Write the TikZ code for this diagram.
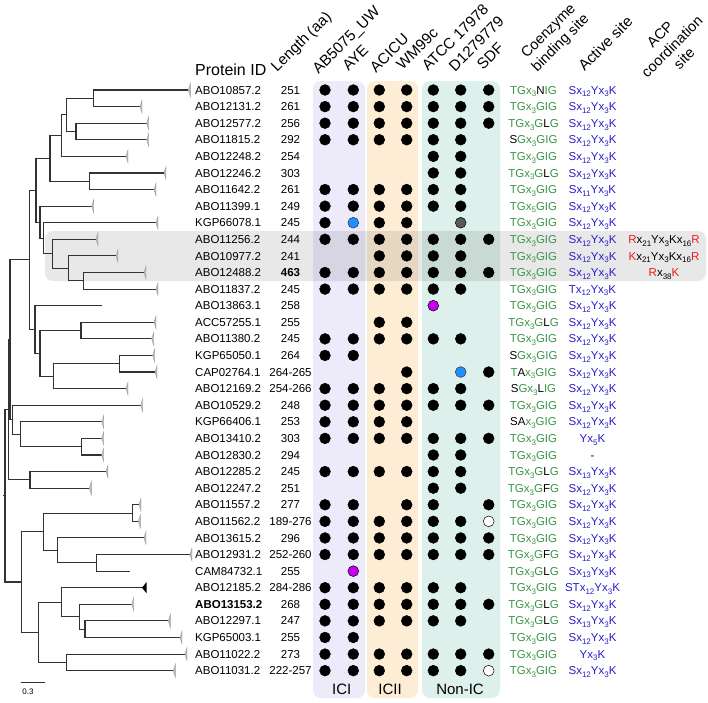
\documentclass[tikz,border=0pt]{standalone}
\usepackage{fontspec}
\setmainfont{Liberation Sans}
\usetikzlibrary{calc}
\definecolor{cgreen}{RGB}{58,150,72}
\definecolor{cblue}{RGB}{40,30,200}
\definecolor{cred}{RGB}{230,30,30}
\definecolor{bandI}{RGB}{237,234,250}
\definecolor{bandII}{RGB}{253,237,212}
\definecolor{bandN}{RGB}{222,240,235}
\definecolor{treec}{RGB}{50,50,50}
\definecolor{dotblue}{RGB}{30,144,255}
\definecolor{dotmag}{RGB}{200,0,240}
\newcommand\sbs[1]{\raisebox{-0.45ex}{\fontsize{8}{8}\selectfont #1}}
\newcommand\gr[1]{\textcolor{cgreen}{#1}}
\newcommand\bl[1]{\textcolor{cblue}{#1}}
\newcommand\rd[1]{\textcolor{cred}{#1}}
\newcommand\xs[1]{x\sbs{#1}}
\newcommand\sact{\bl{S\xs{12}Y\xs{3}K}}
\newcommand\cGIG{\gr{TG\xs{3}GIG}}
\newcommand\cGLG{\gr{TG\xs{3}G}L\gr{G}}
\newcommand\cGFG{\gr{TG\xs{3}G}F\gr{G}}
\newcommand\clade[3]{\draw[br] (#1) -| (#2) |- (#3);}
\newcommand\protrow[6]{%
  \pgfmathsetmacro\ry{90+16.59*(#1-1)}%
  \pgfmathsetmacro\rb{\ry+4.1}%
  \node[idlab] (id#1) at (195,\rb) {#2};
  \node[txt,anchor=base] (len#1) at (290.5,\rb) {#3};
  \foreach \c [count=\k] in {#4} {%
    \if\c0\else
      \pgfmathsetmacro\cx{{325,353.3,379.3,406.7,433.3,460.7,488.7}[\k-1]}%
      \node[dot,dot\c] (dot#1-\k) at (\cx,\ry) {};
    \fi}
  \node[txt,anchor=base] (co#1) at (533.5,\rb) {#5};
  \node[txt,anchor=base] (ac#1) at (592.5,\rb) {#6};
}
\tikzset{
  br/.style={draw=treec, line width=1.1pt},
  txt/.style={inner sep=0pt, font=\fontsize{11.5}{13}\selectfont},
  idlab/.style={txt, anchor=base west},
  dot/.style={circle, inner sep=0pt, minimum size=10.8pt, draw=black, line width=0.5pt},
  dot1/.style={fill=black},
  dotb/.style={fill=dotblue, draw=black!80},
  dotg/.style={fill=black!65},
  dotm/.style={fill=dotmag},
  dotw/.style={fill=white},
  hdr/.style={rotate=45, anchor=base west, inner sep=0pt, font=\fontsize{15.2}{18}\selectfont},
  hdrm/.style={rotate=45, align=center, inner sep=0pt, font=\fontsize{14.6}{17}\selectfont},
  bandlab/.style={inner sep=0pt, font=\fontsize{15}{17}\selectfont},
  leaftick/.style={fill=gray!55, draw=gray!75, line width=0.4pt},
}
\begin{document}
\begin{tikzpicture}[x=1pt,y=-1pt]
\useasboundingbox (0,0) rectangle (708,702);
\fill[white] (0,0) rectangle (708,702);
% group bands
\fill[bandI, rounded corners=8pt] (313,81) rectangle (365,698);
\fill[bandII, rounded corners=8pt] (367,81) rectangle (418,698);
\fill[bandN, rounded corners=8pt] (422,81) rectangle (500,698);
\fill[black, opacity=0.09, rounded corners=8pt] (45,231) rectangle (706,281);
% tree leaves
\foreach \i/\tx in {1/188.3,2/140,3/146.7,4/146.7,5/126,6/164,7/154,8/91.7,9/156,10/96,
  11/116,12/144,13/156,14/101.7,15/154,16/151.7,17/152.7,18/155,19/126,20/140.7,
  21/101.7,22/101.7,23/101.7,24/106,25/89.3,26/139,27/138.3,28/144,29/190,30/130,
  31/142,32/131.7,33/168.3,34/180,35/185,36/173.3}
  {\coordinate (t\i) at (\tx,{90+16.59*(\i-1)});}
% internal nodes
\coordinate (nA) at (93.3,98.30);
\coordinate (nB) at (76,131.48);
\coordinate (nC) at (66.7,114.89);
\coordinate (nD) at (61.7,135.62);
\coordinate (nE) at (89.3,181.25);
\coordinate (nF) at (50,158.43);
\coordinate (nG) at (83.3,280.79);
\coordinate (nH) at (68.3,268.34);
\coordinate (nI) at (52.7,253.83);
\coordinate (nJ) at (43.3,238.27);
\coordinate (nK) at (40,222.20);
\coordinate (nFK) at (36,190.32);
\coordinate (nL) at (81,330.56);
\coordinate (nM) at (119.3,363.74);
\coordinate (nN) at (53.3,376.18);
\coordinate (nO) at (40,353.37);
\coordinate (nP) at (35,329.52);
\coordinate (nQ) at (29.3,259.92);
\coordinate (nU2) at (81.7,446.69);
\coordinate (nU) at (20.7,434.24);
\coordinate (nV) at (12.7,419.73);
\coordinate (nS) at (10,339.82);
\coordinate (nR) at (30,479.87);
\coordinate (nX) at (8.3,409.84);
\coordinate (nY1) at (132.7,513.04);
\coordinate (nY2) at (96.7,562.82);
\coordinate (nY3) at (57.7,550.37);
\coordinate (nY4) at (43.3,531.71);
\coordinate (nZ3) at (85,629.18);
\coordinate (nZ2) at (79.3,616.73);
\coordinate (nZ1) at (61.7,602.22);
\coordinate (nW) at (66.7,662.36);
\coordinate (nZ0) at (38.3,632.29);
\coordinate (nY5) at (21.7,582.00);
\coordinate (nRoot) at (5,495.92);
\coordinate (nStub) at (2.7,495.92);
\clade{t1}{nA}{t2}
\clade{t3}{nB}{t4}
\clade{nA}{nC}{nB}
\clade{nC}{nD}{t5}
\clade{t6}{nE}{t7}
\clade{nD}{nF}{nE}
\clade{t12}{nG}{t13}
\clade{t11}{nH}{nG}
\clade{t10}{nI}{nH}
\clade{t9}{nJ}{nI}
\clade{t8}{nK}{nJ}
\clade{nF}{nFK}{nK}
\clade{t15}{nL}{t16}
\clade{t17}{nM}{t18}
\clade{nM}{nN}{t19}
\clade{nL}{nO}{nN}
\clade{t14}{nP}{nO}
\clade{nFK}{nQ}{nP}
\clade{t22}{nU2}{t23}
\clade{t21}{nU}{nU2}
\clade{t20}{nV}{nU}
\clade{nQ}{nS}{nV}
\clade{t24}{nR}{t25}
\clade{nS}{nX}{nR}
\clade{t26}{nY1}{t27}
\clade{t29}{nY2}{t30}
\clade{t28}{nY3}{nY2}
\clade{nY1}{nY4}{nY3}
\clade{t33}{nZ3}{t34}
\clade{t32}{nZ2}{nZ3}
\clade{t31}{nZ1}{nZ2}
\clade{t35}{nW}{t36}
\clade{nZ1}{nZ0}{nW}
\clade{nY4}{nY5}{nZ0}
\clade{nX}{nRoot}{nY5}
\draw[br] (nStub) -- (nRoot);
% leaf markers
\foreach \i in {1,2,3,4,5,6,7,8,9,10,11,12,13,15,16,17,18,19,20,21,22,23,24,25,26,27,28,29,32,33,34,35,36}
  {\draw[leaftick] (t\i) -- ++(2,-6.5) -- ++(0,13) -- cycle;}
\fill[black] (t31) -- ++(4.5,-5.5) -- ++(0,11) -- cycle;
% scale bar
\coordinate (sb1) at (20.7,682.3);
\coordinate (sb2) at (45,682.3);
\draw[treec, line width=0.8pt] (sb1) -- (sb2);
\node[inner sep=0pt, font=\fontsize{8}{9}\selectfont] (sbl) at (28,691.5) {0.3};
% headers
\node[inner sep=0pt, anchor=base west, font=\fontsize{16}{19}\selectfont] (hPid) at (195,75) {Protein ID};
\node[hdr] (hLen) at (277,73) {Length (aa)};
\node[hdr] (hAB) at (318.5,74.5) {AB5075\_UW};
\node[hdr] (hAYE) at (348.5,72) {AYE};
\node[hdr] (hACI) at (376,73.5) {ACICU};
\node[hdr] (hWM) at (402.5,71) {WM99c};
\node[hdr] (hATCC) at (428,72) {ATCC 17978};
\node[hdr] (hD12) at (455,72.5) {D1279779};
\node[hdr] (hSDF) at (483,71) {SDF};
\node[hdrm] (hCo) at (555,37.5) {Coenzyme\\binding site};
\node[hdr] (hAct) at (584.5,72) {Active site};
\node[hdrm] (hAcp) at (672,46.5) {ACP\\coordination\\site};
% rows
\protrow{1}{ABO10857.2}{251}{1,1,1,1,1,1,1}{\gr{TG\xs{3}}N\gr{IG}}{\sact}
\protrow{2}{ABO12131.2}{261}{1,1,1,1,1,1,1}{\cGIG}{\sact}
\protrow{3}{ABO12577.2}{256}{1,1,1,1,1,1,1}{\cGLG}{\sact}
\protrow{4}{ABO11815.2}{292}{1,1,1,1,1,1,0}{S\gr{G\xs{3}GIG}}{\sact}
\protrow{5}{ABO12248.2}{254}{0,0,0,0,1,1,0}{\cGIG}{\sact}
\protrow{6}{ABO12246.2}{303}{0,0,0,0,1,1,0}{\cGLG}{\sact}
\protrow{7}{ABO11642.2}{261}{1,1,1,1,1,1,0}{\cGIG}{\bl{S\xs{11}Y\xs{3}K}}
\protrow{8}{ABO11399.1}{249}{1,1,1,1,1,1,0}{\gr{TG\xs{5}GIG}}{\sact}
\protrow{9}{KGP66078.1}{245}{1,b,1,1,0,g,0}{\cGIG}{\sact}
\protrow{10}{ABO11256.2}{244}{1,1,1,1,1,1,1}{\cGIG}{\sact}
\protrow{11}{ABO10977.2}{241}{0,0,1,1,1,1,0}{\cGIG}{\sact}
\protrow{12}{ABO12488.2}{\textbf{463}}{1,1,1,1,1,1,1}{\cGIG}{\sact}
\protrow{13}{ABO11837.2}{245}{1,1,1,1,1,1,0}{\cGIG}{\bl{T\xs{12}Y\xs{3}K}}
\protrow{14}{ABO13863.1}{258}{0,0,0,0,m,0,0}{\cGIG}{\sact}
\protrow{15}{ACC57255.1}{255}{0,0,1,1,0,0,0}{\cGLG}{\sact}
\protrow{16}{ABO11380.2}{245}{1,1,1,1,1,1,0}{\cGIG}{\sact}
\protrow{17}{KGP65050.1}{264}{1,1,0,0,0,0,0}{S\gr{G\xs{3}GIG}}{\sact}
\protrow{18}{CAP02764.1}{264-265}{0,0,0,1,0,b,1}{\gr{T}A\gr{\xs{3}GIG}}{\sact}
\protrow{19}{ABO12169.2}{254-266}{1,1,1,1,1,1,0}{S\gr{G\xs{3}}L\gr{IG}}{\sact}
\protrow{20}{ABO10529.2}{248}{1,1,1,1,1,1,1}{\cGIG}{\sact}
\protrow{21}{KGP66406.1}{253}{1,1,1,1,0,0,0}{SA\gr{\xs{3}GIG}}{\sact}
\protrow{22}{ABO13410.2}{303}{1,1,1,1,1,1,1}{\cGIG}{\bl{Y\xs{5}K}}
\protrow{23}{ABO12830.2}{294}{0,0,0,0,1,1,0}{\cGIG}{-}
\protrow{24}{ABO12285.2}{245}{1,1,1,1,1,1,0}{\cGLG}{\bl{S\xs{13}Y\xs{3}K}}
\protrow{25}{ABO12247.2}{251}{0,0,0,0,1,1,0}{\cGFG}{\sact}
\protrow{26}{ABO11557.2}{277}{1,1,0,1,1,0,1}{\cGIG}{\sact}
\protrow{27}{ABO11562.2}{189-276}{1,1,1,1,1,1,w}{\cGIG}{\sact}
\protrow{28}{ABO13615.2}{296}{1,1,1,1,1,1,1}{\cGIG}{\sact}
\protrow{29}{ABO12931.2}{252-260}{1,1,1,1,1,1,1}{\cGFG}{\sact}
\protrow{30}{CAM84732.1}{255}{0,m,0,0,0,0,0}{\cGLG}{\bl{S\xs{13}Y\xs{3}K}}
\protrow{31}{ABO12185.2}{284-286}{1,1,1,1,1,1,0}{\cGIG}{\bl{ST\xs{12}Y\xs{3}K}}
\protrow{32}{\textbf{ABO13153.2}}{268}{1,1,1,1,1,1,1}{\cGLG}{\sact}
\protrow{33}{ABO12297.1}{247}{1,1,1,1,1,1,0}{\cGLG}{\bl{S\xs{13}Y\xs{3}K}}
\protrow{34}{KGP65003.1}{255}{1,1,0,0,0,0,0}{\cGIG}{\sact}
\protrow{35}{ABO11022.2}{273}{1,1,1,1,1,1,1}{\cGIG}{\bl{Y\xs{3}K}}
\protrow{36}{ABO11031.2}{222-257}{1,1,1,1,1,1,w}{\cGIG}{\sact}
% ACP coordination sites
\node[txt,anchor=base] (acp10) at (664,{90+16.59*9+4.1}) {\rd{R}\xs{21}Y\xs{3}K\xs{16}\rd{R}};
\node[txt,anchor=base] (acp11) at (664,{90+16.59*10+4.1}) {\rd{K}\xs{21}Y\xs{3}K\xs{16}\rd{R}};
\node[txt,anchor=base] (acp12) at (664,{90+16.59*11+4.1}) {\rd{R}\xs{38}\rd{K}};
% band labels
\node[bandlab] (lICI) at (341.7,689.3) {ICI};
\node[bandlab] (lICII) at (390,689.3) {ICII};
\node[bandlab] (lNon) at (460,689.3) {Non-IC};
\end{tikzpicture}
\end{document}
